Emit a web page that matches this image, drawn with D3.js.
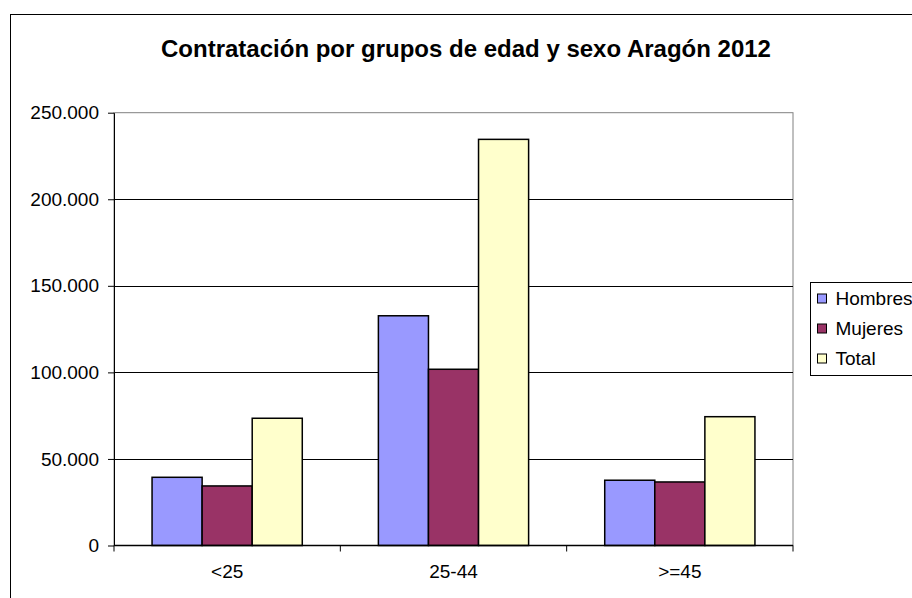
<!DOCTYPE html>
<html>
<head>
<meta charset="utf-8">
<script src="https://cdn.jsdelivr.net/npm/d3@7"></script>
<style>
  body { margin: 0; background: #fff; }
  svg { display: block; font-family: "Liberation Sans", Arial, sans-serif; }
</style>
</head>
<body>
<svg id="chart" width="912" height="598"></svg>
<script>
// Datos
const categories = ["<25", "25-44", ">=45"];
const series = ["Hombres", "Mujeres", "Total"];
const hombres = [39400, 132700, 37700];
const mujeres = [34400, 101800, 36700];
const total = [73500, 234600, 74400];
const yTicks = [0, 50000, 100000, 150000, 200000, 250000];
const colors = ["#9999ff", "#993366", "#ffffcc"];

const values = [hombres, mujeres, total];

const plot = { left: 114, top: 112.7, right: 793, bottom: 545.5 };
const font = "'Liberation Sans', Arial, sans-serif";

const svg = d3.select("#chart");

// borde exterior (cortado a la derecha y abajo)
svg.append("rect")
  .attr("x", 10.5).attr("y", 14.5)
  .attr("width", 1000).attr("height", 1000)
  .attr("fill", "#fff").attr("stroke", "#000").attr("stroke-width", 1);

svg.append("text")
  .attr("x", 466).attr("y", 57)
  .attr("text-anchor", "middle")
  .style("font-weight", "bold").style("font-size", "24px")
  .text("Contratación por grupos de edad y sexo Aragón 2012");

const x = d3.scaleBand().domain(categories).range([plot.left, plot.right]);
const y = d3.scaleLinear().domain([0, 250000]).range([plot.bottom, plot.top]);
const inner = d3.scaleBand().domain(series)
  .range([0, x.bandwidth()]).paddingOuter(0.76).paddingInner(0);

// borde del área de trazado
svg.append("rect")
  .attr("x", plot.left).attr("y", y(250000))
  .attr("width", plot.right - plot.left).attr("height", plot.bottom - y(250000))
  .attr("fill", "none").attr("stroke", "#808080");

// líneas de cuadrícula
svg.append("g")
  .selectAll("line")
  .data(yTicks.filter((d) => d > 0 && d < 250000))
  .join("line")
  .attr("x1", plot.left).attr("x2", plot.right)
  .attr("y1", (d) => Math.round(y(d)) + 0.5).attr("y2", (d) => Math.round(y(d)) + 0.5)
  .attr("stroke", "#000");

// barras
const rows = categories.map((c, i) => series.map((s, j) => ({ cat: c, s, v: values[j][i], j })));
svg.append("g")
  .selectAll("g")
  .data(rows)
  .join("g")
  .attr("transform", (d) => `translate(${x(d[0].cat)},0)`)
  .selectAll("rect")
  .data((d) => d)
  .join("rect")
  .attr("x", (d) => inner(d.s))
  .attr("y", (d) => y(d.v))
  .attr("width", inner.bandwidth())
  .attr("height", (d) => y(0) - y(d.v))
  .attr("fill", (d) => colors[d.j])
  .attr("stroke", "#000").attr("stroke-width", 1.5);

// eje Y
const fmt = (v) => v === 0 ? "0" : d3.format(",")(v).replace(/,/g, ".");
const yAxis = svg.append("g")
  .attr("transform", `translate(${plot.left},0)`)
  .call(d3.axisLeft(y).tickValues(yTicks).tickFormat(fmt).tickSize(6).tickPadding(9).tickSizeOuter(0));
yAxis.select(".domain").attr("stroke", "#000");
yAxis.selectAll("text").style("font-size", "19px").attr("fill", "#000")
  .style("font-family", font);

// eje X
const xAxis = svg.append("g")
  .attr("transform", `translate(0,${plot.bottom})`)
  .call(d3.axisBottom(x).tickSize(0).tickPadding(19));
xAxis.select(".domain").remove();
xAxis.selectAll("text").style("font-size", "19px").attr("fill", "#000")
  .style("font-family", font);
svg.append("line")
  .attr("x1", plot.left).attr("x2", plot.right)
  .attr("y1", plot.bottom).attr("y2", plot.bottom)
  .attr("stroke", "#000").attr("stroke-width", 1.5);
svg.append("g")
  .selectAll("line")
  .data(categories.map((c) => x(c)).concat([plot.right]))
  .join("line")
  .attr("x1", (d) => d).attr("x2", (d) => d)
  .attr("y1", plot.bottom).attr("y2", plot.bottom + 6)
  .attr("stroke", "#000");

// leyenda
const legend = svg.append("g").attr("transform", "translate(810.5,282.5)");
legend.append("rect")
  .attr("width", 200).attr("height", 93)
  .attr("fill", "#fff").attr("stroke", "#000");
series.forEach((s, i) => {
  const g = legend.append("g").attr("transform", `translate(0,${16 + i * 30})`);
  g.append("rect")
    .attr("x", 7).attr("y", -4.5).attr("width", 9).attr("height", 9)
    .attr("fill", colors[i]).attr("stroke", "#000");
  g.append("text")
    .attr("x", 25).attr("y", 0).attr("dy", "0.35em")
    .style("font-size", "19px")
    .text(s);
});
</script>
</body>
</html>
